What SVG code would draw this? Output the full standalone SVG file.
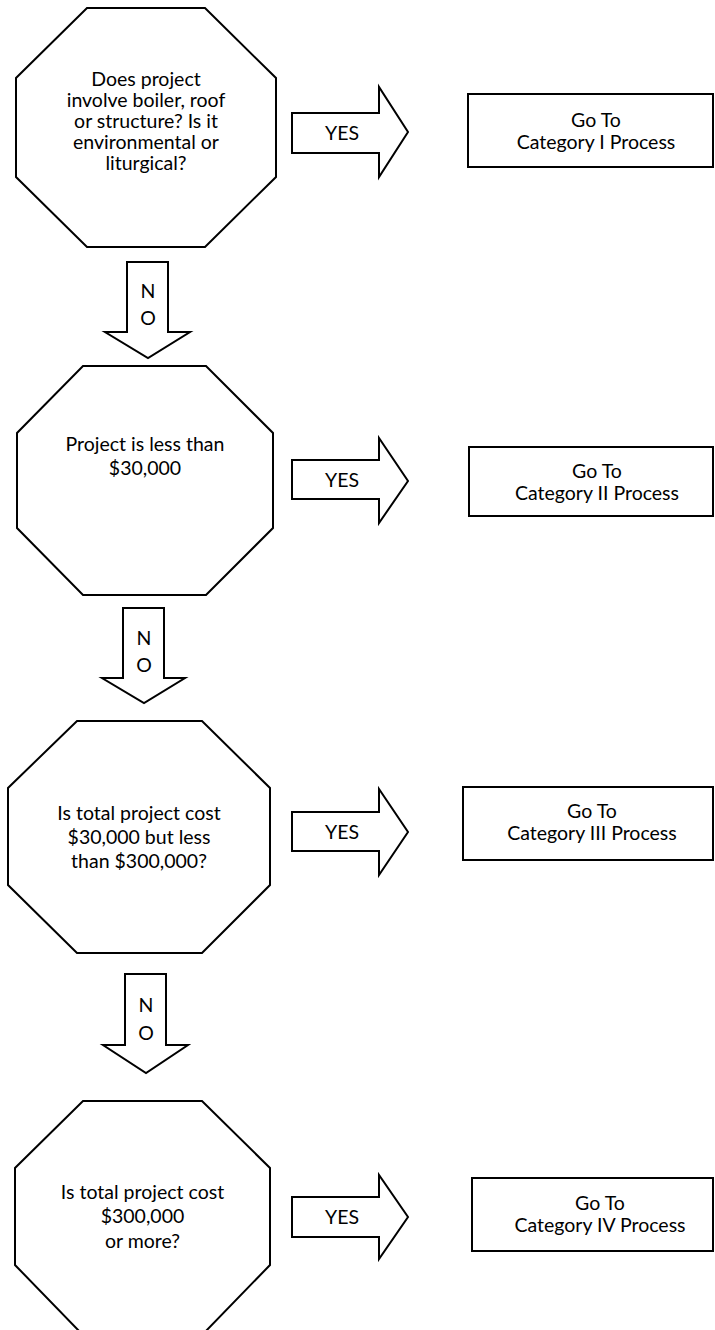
<svg xmlns="http://www.w3.org/2000/svg" width="715" height="1330" viewBox="0 0 715 1330">
<style>
.shape{fill:#fff;stroke:#000;stroke-width:2;stroke-linejoin:miter}
.t{font-family:Lato,"Open Sans","Liberation Sans",sans-serif;font-size:19.5px;fill:#000;text-anchor:middle}
</style>
<rect x="0" y="0" width="715" height="1330" fill="#fff"/>
<g id="connectors">
  <g id="yes1"><polygon class="shape" points="292,113 379,113 379,87 408,132 379,177 379,153 292,153"/><text class="t" x="342" y="140">YES</text></g>
  <g id="yes2"><polygon class="shape" points="292,460 379,460 379,438 408,481 379,523 379,499 292,499"/><text class="t" x="342" y="487">YES</text></g>
  <g id="yes3"><polygon class="shape" points="292,812 379,812 379,789 408,832 379,875 379,851 292,851"/><text class="t" x="342" y="839">YES</text></g>
  <g id="yes4"><polygon class="shape" points="292,1197 379,1197 379,1175 408,1217 379,1259 379,1237 292,1237"/><text class="t" x="342" y="1224">YES</text></g>
  <g id="no1"><polygon class="shape" points="127,262 168,262 168,332 190,332 148,358 105,332 127,332"/><text class="t" x="148" y="298">N</text><text class="t" x="148" y="325">O</text></g>
  <g id="no2"><polygon class="shape" points="123,608 164,608 164,678 185,678 144,703 102,678 123,678"/><text class="t" x="144" y="645">N</text><text class="t" x="144" y="672">O</text></g>
  <g id="no3"><polygon class="shape" points="125,974 166,974 166,1045 188,1045 146,1073 103,1045 125,1045"/><text class="t" x="146" y="1012">N</text><text class="t" x="146" y="1040">O</text></g>
</g>
<g id="q1">
  <polygon class="shape" points="87,8 205,8 276,78 276,177 205,247 87,247 16,177 16,78"/>
  <text class="t" x="146" y="86">Does project</text>
  <text class="t" x="146" y="107">involve boiler, roof</text>
  <text class="t" x="146" y="128">or structure? Is it</text>
  <text class="t" x="146" y="149">environmental or</text>
  <text class="t" x="146" y="170">liturgical?</text>
</g>
<g id="q2">
  <polygon class="shape" points="83,366 206,366 273,433 273,528 206,595 83,595 17,528 17,433"/>
  <text class="t" x="145" y="451">Project is less than</text>
  <text class="t" x="145" y="475">$30,000</text>
</g>
<g id="q3">
  <polygon class="shape" points="77,721 202,721 270,788 270,885 202,953 77,953 8,885 8,788"/>
  <text class="t" x="139" y="820">Is total project cost</text>
  <text class="t" x="139" y="844">$30,000 but less</text>
  <text class="t" x="139" y="868">than $300,000?</text>
</g>
<g id="q4">
  <polygon class="shape" points="83,1101 202,1101 270,1168 270,1265 204,1333 81,1333 15,1265 15,1168"/>
  <text class="t" x="142.5" y="1199">Is total project cost</text>
  <text class="t" x="142.5" y="1223">$300,000</text>
  <text class="t" x="142.5" y="1248">or more?</text>
</g>
<g id="cat1">
  <rect class="shape" x="468" y="94" width="245" height="73"/>
  <text class="t" x="596" y="127">Go To</text>
  <text class="t" x="596" y="149">Category I Process</text>
</g>
<g id="cat2">
  <rect class="shape" x="469" y="447" width="244" height="69"/>
  <text class="t" x="597" y="478">Go To</text>
  <text class="t" x="597" y="500">Category II Process</text>
</g>
<g id="cat3">
  <rect class="shape" x="463" y="787" width="250" height="73"/>
  <text class="t" x="592" y="818">Go To</text>
  <text class="t" x="592" y="840">Category III Process</text>
</g>
<g id="cat4">
  <rect class="shape" x="472" y="1178" width="241" height="73"/>
  <text class="t" x="600" y="1210">Go To</text>
  <text class="t" x="600" y="1232">Category IV Process</text>
</g>
</svg>
